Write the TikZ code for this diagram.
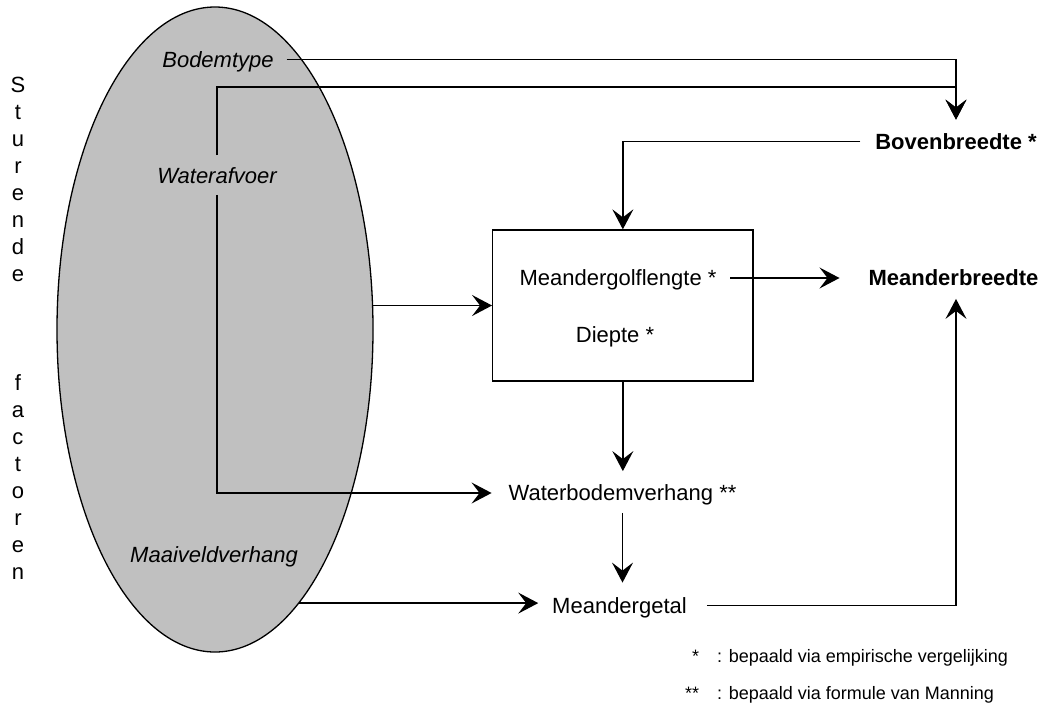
\documentclass[tikz,border=0pt]{standalone}
\usepackage{fontspec}
\setmainfont{Liberation Sans}
\usetikzlibrary{arrows.meta,shapes.geometric}
\definecolor{factorgray}{RGB}{192,192,192}
\begin{document}
\begin{tikzpicture}[x=1pt,y=-1pt,
  lbl/.style={inner sep=0pt, outer sep=0pt, font=\fontsize{22}{26}\selectfont, text height=15.8pt, text depth=0pt},
  factor/.style={lbl, font=\fontsize{22}{26}\selectfont\itshape},
  result/.style={lbl, font=\fontsize{22}{26}\selectfont\bfseries},
  note/.style={inner sep=0pt, font=\fontsize{18}{21}\selectfont, anchor=base west},
  vletter/.style={inner sep=0pt, font=\fontsize{22}{26}\selectfont, anchor=base},
  link/.style={line width=1.3pt},
  flow/.style={link, -{Stealth[length=20pt,width=21pt,inset=8pt]}},
]
\useasboundingbox (0,0) rectangle (1045,710);

% vertical caption
\foreach \c [count=\k from 0] in {S,t,u,r,e,n,d,e}
  \node[vletter] (sa\k) at (18, 92+27.1*\k) {\c};
\foreach \c [count=\k from 0] in {f,a,c,t,o,r,e,n}
  \node[vletter] (sb\k) at (18, 390+27.1*\k) {\c};

% steering factors
\node[ellipse, draw, line width=1.3pt, fill=factorgray, minimum width=316pt,
      minimum height=645pt, inner sep=0pt, outer sep=0pt] (ell) at (215,329.5) {};
\node[factor] (bod) at (218,59.5) {Bodemtype};
\node[factor] (wat) at (217,176) {Waterafvoer};
\node[factor] (maa) at (214,555) {Maaiveldverhang};

% derived quantities
\node[draw, line width=1.3pt, minimum width=260.3pt, minimum height=151pt,
      inner sep=0pt] (box) at (622.85,305.5) {};
\node[lbl] (mgl) at (618,278) {Meandergolflengte *};
\node[lbl] (die) at (615,335) {Diepte *};
\node[result] (bov) at (956,141.5) {Bovenbreedte *};
\node[result] (mbr) at (953.5,278) {Meanderbreedte};
\node[lbl] (wbv) at (622.5,493) {Waterbodemverhang **};
\node[lbl] (mg) at (619.5,605.5) {Meandergetal};

% helper points
\coordinate (bovin) at ([yshift=14pt]bov.north);
\coordinate (wbvin) at ([yshift=14pt]wbv.north);
\coordinate (wbvout) at ([yshift=-12pt]wbv.south);
\coordinate (mgin) at ([yshift=15pt]mg.north);
\coordinate (mgw) at ([xshift=-14pt]mg.west);
\coordinate (mbrin) at ([yshift=-13pt]mbr.south);
\coordinate (ellout) at (ell.-73.4);

% connectors
\draw[flow] ([xshift=13pt]bod.east) -| (bovin);
\draw[flow] ([yshift=13pt]wat.north) -- ++(0,-68) -| (bovin);
\draw[flow] ([xshift=-15pt]bov.west) -| (box.north);
\draw[flow] (ell.east |- box.west) -- (box.west);
\draw[flow] ([xshift=14pt]mgl.east) -- ([xshift=-29pt]mbr.west);
\draw[flow] (box.south) -- (box.south |- wbvin);
\draw[flow] ([yshift=-11pt]wat.south) |- ([xshift=-17pt]wbv.west);
\draw[flow] (wbvout) -- (wbvout |- mgin);
\draw[flow] (ellout) -- (ellout -| mgw);
\draw[flow] ([xshift=20pt]mg.east) -| (mbrin -| bov.north);

% legend
\node[note] (n1s) at (692,662) {*};
\node[note] (n1) at (717,662) {: bepaald via empirische vergelijking};
\node[note] (n2s) at (685,699) {**};
\node[note] (n2) at (717,699) {: bepaald via formule van Manning};
\end{tikzpicture}
\end{document}
